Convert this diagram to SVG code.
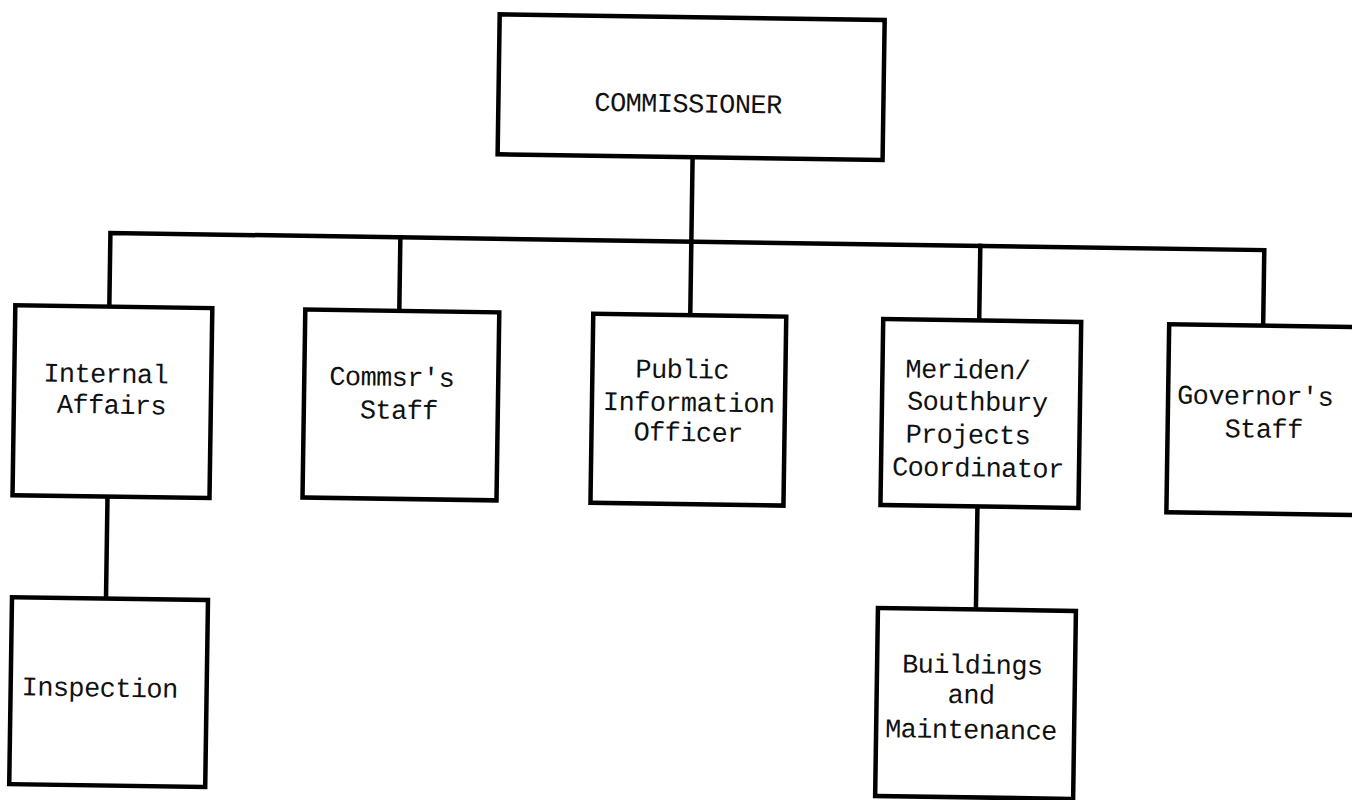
<svg xmlns="http://www.w3.org/2000/svg" width="1352" height="800" viewBox="0 0 1352 800">
<style>
.box{fill:#fff;stroke:#000;stroke-width:4.5;stroke-linejoin:miter}
.ln{fill:none;stroke:#000;stroke-width:4.5;stroke-linecap:square}
text{font-family:"Liberation Mono","Courier New",monospace;font-size:27px;letter-spacing:-0.6px;fill:#111}
</style>
<rect width="1352" height="800" fill="#fff"/>
<g transform="rotate(0.85 676 400)">
<g id="connectors">
<path class="ln" d="M689,157 V241.4"/>
<path class="ln" d="M108,315 V241.4 H1262 V317"/>
<path class="ln" d="M398,241.4 V315"/>
<path class="ln" d="M689,241.4 V315"/>
<path class="ln" d="M978,241.4 V316"/>
<path class="ln" d="M109,505 V607"/>
<path class="ln" d="M979,502 V605"/>
</g>
<g id="commissioner">
<rect class="box" x="494" y="17" width="385" height="140"/>
<text x="590" y="112">COMMISSIONER</text>
</g>
<g id="internal-affairs">
<rect class="box" x="14" y="315" width="197" height="190"/>
<text x="43" y="391">Internal</text>
<text x="57" y="422">Affairs</text>
</g>
<g id="commsrs-staff">
<rect class="box" x="304" y="315" width="194" height="188"/>
<text x="329" y="390">Commsr's</text>
<text x="360" y="423">Staff</text>
</g>
<g id="public-information-officer">
<rect class="box" x="592" y="315" width="193" height="189"/>
<text x="635" y="378">Public</text>
<text x="603" y="411">Information</text>
<text x="634" y="441">Officer</text>
</g>
<g id="meriden-southbury">
<rect class="box" x="882" y="316" width="198" height="186"/>
<text x="905" y="374">Meriden/</text>
<text x="907" y="406">Southbury</text>
<text x="906" y="439">Projects</text>
<text x="893" y="472">Coordinator</text>
</g>
<g id="governors-staff">
<rect class="box" x="1168" y="317" width="210" height="188"/>
<text x="1177" y="396">Governor's</text>
<text x="1225" y="429">Staff</text>
</g>
<g id="inspection">
<rect class="box" x="15" y="607" width="196" height="187"/>
<text x="26" y="705">Inspection</text>
</g>
<g id="buildings-maintenance">
<rect class="box" x="881" y="605" width="198" height="188"/>
<text x="906" y="669">Buildings</text>
<text x="952" y="699">and</text>
<text x="890" y="734">Maintenance</text>
</g>
</g>
</svg>
